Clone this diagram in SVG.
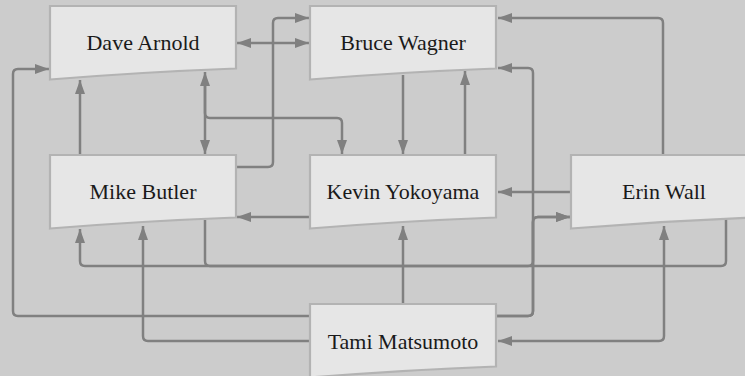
<svg xmlns="http://www.w3.org/2000/svg" width="745" height="376" viewBox="0 0 745 376">
<defs>
<style>
.bg{fill:#cccccc}
.node path{fill:#e6e6e6;stroke:#b3b3b3;stroke-width:2.2}
.node text{font-family:"Liberation Serif","Times New Roman",serif;font-size:22px;fill:#1a1a1a;text-anchor:middle;dominant-baseline:central}
.edges path{fill:none;stroke:#808080;stroke-width:2.5}
</style>
<marker id="ah" viewBox="0 0 14 10" markerWidth="14" markerHeight="10" refX="14" refY="5" orient="auto-start-reverse" markerUnits="userSpaceOnUse">
<path d="M0,0 L14,5 L0,10 z" fill="#808080"/>
</marker>
</defs>
<rect class="bg" x="0" y="0" width="745" height="376"/>
<g class="edges">
<path d="M237,43 H309" marker-start="url(#ah)" marker-end="url(#ah)"/>
<path d="M236,167 H268 Q273,167 273,162 V23 Q273,18 278,18 H309" marker-end="url(#ah)"/>
<path d="M310,316 H18 Q13,316 13,311 V74 Q13,69 18,69 H49" marker-end="url(#ah)"/>
<path d="M80,155 V80" marker-end="url(#ah)"/>
<path d="M205,72 V154" marker-start="url(#ah)" marker-end="url(#ah)"/>
<path d="M205,80 V113 Q205,118 210,118 H337 Q342,118 342,123 V154" marker-end="url(#ah)"/>
<path d="M403,75 V154" marker-end="url(#ah)"/>
<path d="M465,155 V71" marker-end="url(#ah)"/>
<path d="M497,316 H528 Q533,316 533,311 V73 Q533,68 528,68 H498" marker-end="url(#ah)"/>
<path d="M497,316 H528 Q533,316 533,311 V222 Q533,217 538,217 H570" marker-end="url(#ah)"/>
<path d="M205,220 V261 Q205,266 210,266 H528 Q533,266 533,261 V222 Q533,217 538,217 H570" marker-end="url(#ah)"/>
<path d="M726,219 V261 Q726,266 721,266 H85 Q80,266 80,261 V229" marker-end="url(#ah)"/>
<path d="M663,155 V23 Q663,18 658,18 H498" marker-end="url(#ah)"/>
<path d="M571,192 H498" marker-end="url(#ah)"/>
<path d="M310,217 H237" marker-end="url(#ah)"/>
<path d="M403,304 V226" marker-end="url(#ah)"/>
<path d="M310,341 H148 Q143,341 143,336 V226" marker-end="url(#ah)"/>
<path d="M498,341 H659 Q664,341 664,336 V226" marker-start="url(#ah)" marker-end="url(#ah)"/>
</g>
<g id="dave-arnold" class="node" transform="translate(50,6)"><path d="M0,0 H186 V62.5 Q93,66 0,73.5 Z"/><text x="93" y="36">Dave Arnold</text></g>
<g id="bruce-wagner" class="node" transform="translate(310,6)"><path d="M0,0 H186 V62.5 Q93,66 0,73.5 Z"/><text x="93" y="36">Bruce Wagner</text></g>
<g id="mike-butler" class="node" transform="translate(50,155)"><path d="M0,0 H186 V62.5 Q93,66 0,73.5 Z"/><text x="93" y="36">Mike Butler</text></g>
<g id="kevin-yokoyama" class="node" transform="translate(310,155)"><path d="M0,0 H186 V62.5 Q93,66 0,73.5 Z"/><text x="93" y="36">Kevin Yokoyama</text></g>
<g id="erin-wall" class="node" transform="translate(571,155)"><path d="M0,0 H186 V62.5 Q93,66 0,73.5 Z"/><text x="93" y="36">Erin Wall</text></g>
<g id="tami-matsumoto" class="node" transform="translate(310,304)"><path d="M0,0 H186 V62.5 Q93,66 0,73.5 Z"/><text x="93" y="37">Tami Matsumoto</text></g>
</svg>
